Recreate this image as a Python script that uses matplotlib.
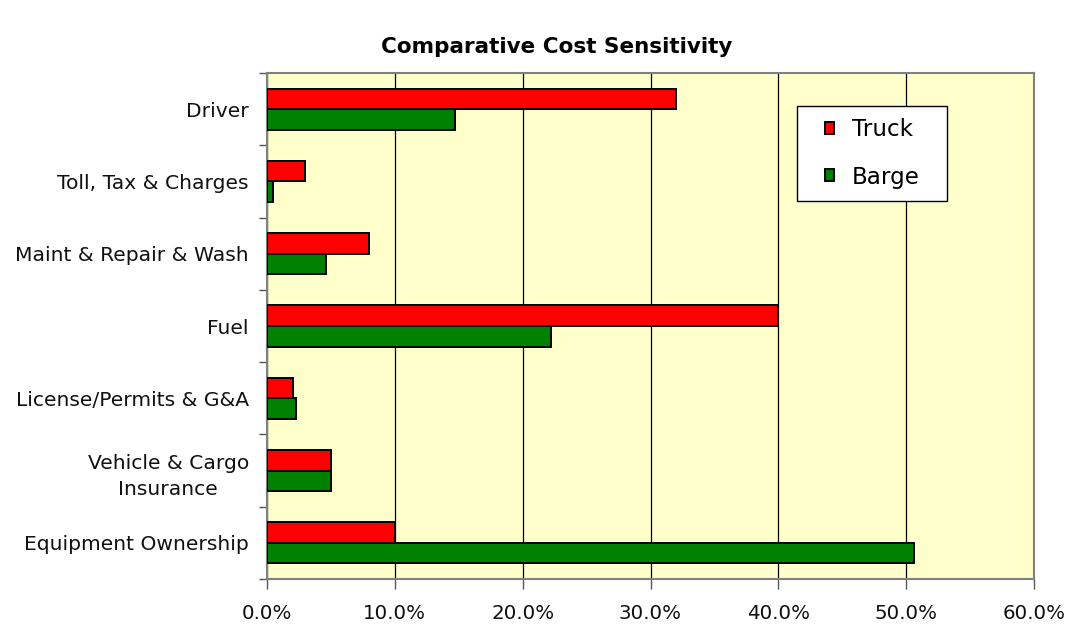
import matplotlib
matplotlib.use("Agg")
import matplotlib.pyplot as plt
import numpy as np
from matplotlib.patches import Rectangle
from matplotlib.ticker import FuncFormatter

plt.rcParams['font.family'] = ['DejaVu Sans']

categories = ["Driver", "Toll, Tax & Charges", "Maint & Repair & Wash", "Fuel",
              "License/Permits & G&A", "Vehicle & Cargo\nInsurance", "Equipment Ownership"]
truck = [32.0, 3.0, 8.0, 40.0, 2.0, 5.0, 10.0]
barge = [14.7, 0.5, 4.6, 22.2, 2.3, 5.0, 50.6]
x_ticks = [0, 10, 20, 30, 40, 50, 60]

fig = plt.figure(figsize=(10.70, 6.24), dpi=100)
ax = fig.add_axes([267/1070, 1 - 579/624, (1034-267)/1070, (579-73)/624])
ax.set_facecolor("#FFFFCC")

y = np.arange(len(categories))
h = 0.285
ax.barh(y - h/2, truck, height=h, color="#FF0000", edgecolor="black", linewidth=1.4,
        label="Truck", zorder=3)
ax.barh(y + h/2, barge, height=h, color="#008000", edgecolor="black", linewidth=1.4,
        label="Barge", zorder=3)

ax.set_xlim(0, 60)
ax.set_ylim(len(categories) - 0.5, -0.5)
ax.set_xticks(x_ticks)
ax.xaxis.set_major_formatter(FuncFormatter(lambda v, p: f"{v:.1f}%"))
ax.grid(axis="x", color="black", linewidth=0.9, zorder=1)

# category labels centred in each band, boundary ticks between bands
ax.set_yticks(y)
ax.set_yticklabels(categories, fontsize=14.6, multialignment="center", linespacing=1.5)
ax.tick_params(axis="y", length=0, pad=13)
ax.set_yticks(np.arange(len(categories) + 1) - 0.5, minor=True)
ax.tick_params(axis="y", which="minor", length=6, width=1, color="#555555")
ax.tick_params(axis="x", labelsize=14.3, length=7, width=1, color="#555555", pad=11)
for lbl in ax.get_xticklabels() + ax.get_yticklabels():
    lbl.set_color("#111111")
# nudge the two-line label up so both lines sit within its band
ax.get_yticklabels()[5].set_y(5 - 0.06)

for side in ["left", "bottom", "top", "right"]:
    ax.spines[side].set_color("#808080")
    ax.spines[side].set_linewidth(1.5)

# legend box
x0, x1 = 0.691, 0.8866
y0, y1 = 0.747, 0.9348
ax.add_patch(Rectangle((x0, y0), x1 - x0, y1 - y0, transform=ax.transAxes,
                       facecolor="white", edgecolor="black", linewidth=1.0, zorder=4))
leg = ax.legend(loc="center", bbox_to_anchor=((x0 + x1) / 2, (y0 + y1) / 2), fontsize=16.6,
                frameon=False, handlelength=0.42, handleheight=0.42, handletextpad=0.75,
                labelspacing=1.05, borderpad=0, borderaxespad=0)
leg.set_zorder(5)

fig.text(557/1070, 1 - 47/624, "Comparative Cost Sensitivity", ha="center", va="center",
         fontsize=15.5, fontweight="bold")

fig.savefig("out.png", dpi=100, facecolor="white")
